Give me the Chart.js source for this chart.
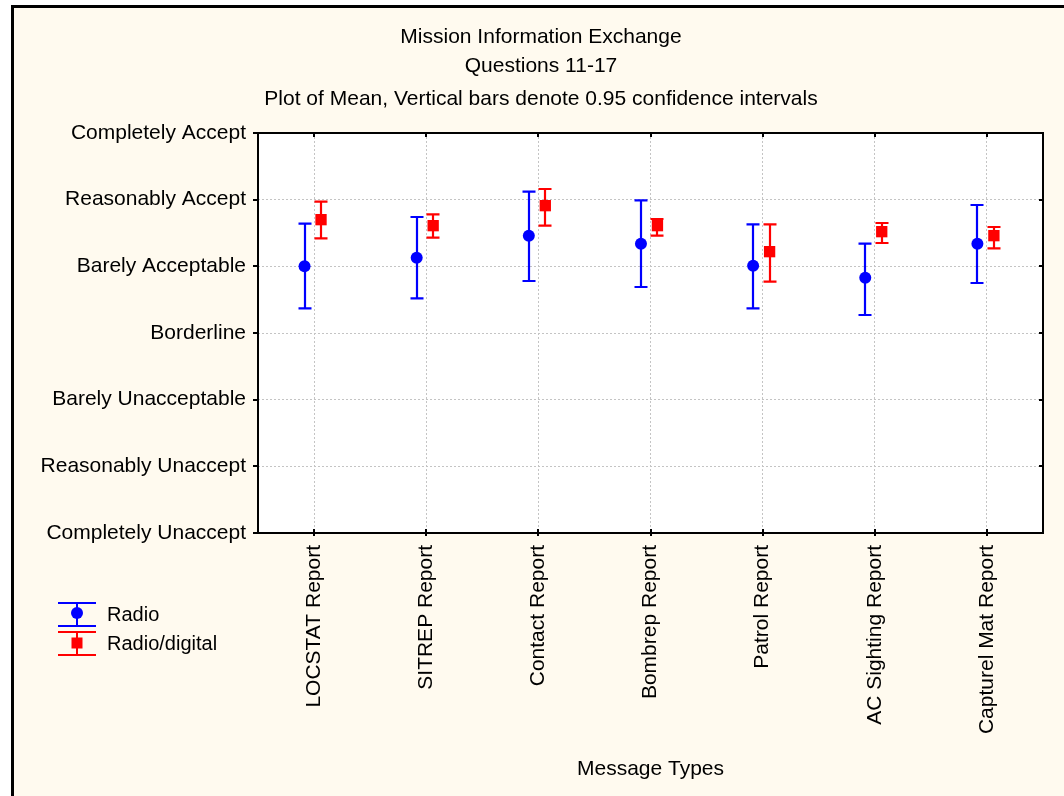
<!DOCTYPE html>
<html>
<head>
<meta charset="utf-8">
<script src="https://cdn.jsdelivr.net/npm/chart.js@4/dist/chart.umd.min.js"></script>
<style>
  html, body { margin: 0; padding: 0; background: #ffffff; }
  canvas { display: block; }
</style>
</head>
<body>
<canvas id="chart" width="1064" height="796"></canvas>
<script>
// Message types on the x axis
const messageTypes = ["LOCSTAT Report", "SITREP Report", "Contact Report", "Bombrep Report",
                      "Patrol Report", "AC Sighting Report", "Capturel Mat Report"];
// Rating scale, value 1 .. 7
const ratingLabels = ["Completely Unaccept", "Reasonably Unaccept", "Barely Unacceptable",
                      "Borderline", "Barely Acceptable", "Reasonably Accept", "Completely Accept"];

// Radio: mean and 0.95 confidence limits
const radioMean = [5.00, 5.13, 5.46, 5.34, 5.01, 4.83, 5.34];
const radioLow  = [4.37, 4.52, 4.78, 4.69, 4.37, 4.27, 4.75];
const radioHigh = [5.64, 5.74, 6.12, 5.99, 5.63, 5.34, 5.92];

// Radio/digital: mean and 0.95 confidence limits
const digitalMean = [5.70, 5.61, 5.91, 5.61, 5.22, 5.52, 5.46];
const digitalLow  = [5.42, 5.43, 5.61, 5.46, 4.77, 5.35, 5.27];
const digitalHigh = [5.97, 5.78, 6.16, 5.71, 5.63, 5.65, 5.59];

const titleLines = ["Mission Information Exchange", "Questions 11-17",
                    "Plot of Mean, Vertical bars denote 0.95 confidence intervals"];
const seriesNames = ["Radio", "Radio/digital"];

const FONT = "'Liberation Sans', Arial, sans-serif";
const BLUE = "#0000ff";
const RED = "#ff0000";
const CREAM = "#fffaef";

// horizontal shift of each series inside its category
const radioShift = -0.085;
const digitalShift = 0.062;

function toPoints(means, shift) {
  return means.map((v, i) => ({ x: i + shift, y: v }));
}

const errorBars = [
  { low: radioLow, high: radioHigh, shift: radioShift, color: BLUE, cap: 6.5 },
  { low: digitalLow, high: digitalHigh, shift: digitalShift, color: RED, cap: 6.5 }
];

// page background, framed on the left and top
const backgroundPlugin = {
  id: "pageBackground",
  beforeDraw(chart) {
    const ctx = chart.ctx;
    ctx.save();
    ctx.fillStyle = "#ffffff";
    ctx.fillRect(0, 0, chart.width, chart.height);
    ctx.fillStyle = CREAM;
    ctx.fillRect(11, 5, chart.width - 11, chart.height - 5);
    ctx.fillStyle = "#000000";
    ctx.fillRect(11, 5, 3, chart.height - 5);
    ctx.fillRect(11, 5, chart.width - 11, 3);
    const a = chart.chartArea;
    ctx.fillStyle = "#ffffff";
    ctx.fillRect(a.left, a.top, a.right - a.left, a.bottom - a.top);
    ctx.restore();
  }
};

// vertical confidence interval bars
const errorBarPlugin = {
  id: "errorBars",
  beforeDatasetsDraw(chart) {
    const ctx = chart.ctx;
    const xs = chart.scales.x, ys = chart.scales.y;
    ctx.save();
    ctx.lineWidth = 2.2;
    errorBars.forEach(s => {
      ctx.strokeStyle = s.color;
      s.low.forEach((lo, i) => {
        const x = Math.round(xs.getPixelForValue(i + s.shift));
        const yl = ys.getPixelForValue(lo);
        const yh = ys.getPixelForValue(s.high[i]);
        ctx.beginPath();
        ctx.moveTo(x, yl); ctx.lineTo(x, yh);
        ctx.moveTo(x - s.cap, yl); ctx.lineTo(x + s.cap, yl);
        ctx.moveTo(x - s.cap, yh); ctx.lineTo(x + s.cap, yh);
        ctx.stroke();
      });
    });
    ctx.restore();
  }
};

// plot frame, tick marks, titles and legend
const decorPlugin = {
  id: "decor",
  afterDraw(chart) {
    const ctx = chart.ctx;
    const a = chart.chartArea;
    const xs = chart.scales.x, ys = chart.scales.y;
    ctx.save();
    ctx.strokeStyle = "#000000";
    ctx.lineWidth = 2;
    ctx.strokeRect(a.left, a.top, a.right - a.left, a.bottom - a.top);
    ctx.lineWidth = 2;
    ctx.beginPath();
    ys.ticks.forEach(t => {
      const y = Math.round(ys.getPixelForValue(t.value));
      ctx.moveTo(a.left - 5, y); ctx.lineTo(a.left, y);
      ctx.moveTo(a.right, y); ctx.lineTo(a.right - 4, y);
    });
    xs.ticks.forEach(t => {
      const x = Math.round(xs.getPixelForValue(t.value));
      ctx.moveTo(x, a.top); ctx.lineTo(x, a.top + 4);
      ctx.moveTo(x, a.bottom + 3); ctx.lineTo(x, a.bottom - 4);
    });
    ctx.stroke();

    // titles
    ctx.fillStyle = "#000000";
    ctx.textAlign = "center";
    ctx.textBaseline = "middle";
    ctx.font = "21px " + FONT;
    const titleY = [37, 66, 99];
    titleLines.forEach((t, i) => ctx.fillText(t, 541, titleY[i]));

    // legend
    const lx = 77, half = 19;
    const items = [
      { name: seriesNames[0], color: BLUE, top: 603, bottom: 626, mid: 614, marker: "circle" },
      { name: seriesNames[1], color: RED, top: 632, bottom: 655, mid: 643, marker: "rect" }
    ];
    items.forEach(it => {
      ctx.strokeStyle = it.color;
      ctx.fillStyle = it.color;
      ctx.lineWidth = 2;
      ctx.beginPath();
      ctx.moveTo(lx - half, it.top); ctx.lineTo(lx + half, it.top);
      ctx.moveTo(lx - half, it.bottom); ctx.lineTo(lx + half, it.bottom);
      ctx.moveTo(lx, it.top); ctx.lineTo(lx, it.bottom);
      ctx.stroke();
      if (it.marker === "circle") {
        ctx.beginPath();
        ctx.arc(lx, it.mid - 1, 6, 0, Math.PI * 2);
        ctx.fill();
      } else {
        ctx.fillRect(lx - 5.5, it.mid - 5.5, 11, 11);
      }
      ctx.fillStyle = "#000000";
      ctx.textAlign = "left";
      ctx.font = "20px " + FONT;
      ctx.fillText(it.name, 107, it.mid + 1);
    });
    ctx.restore();
  }
};

new Chart(document.getElementById("chart"), {
  type: "scatter",
  data: {
    datasets: [
      {
        label: seriesNames[0],
        data: toPoints(radioMean, radioShift),
        pointStyle: "circle",
        pointRadius: 6,
        pointHoverRadius: 6,
        backgroundColor: BLUE,
        borderColor: BLUE,
        borderWidth: 0
      },
      {
        label: seriesNames[1],
        data: toPoints(digitalMean, digitalShift),
        pointStyle: "rect",
        pointRadius: 8,
        pointHoverRadius: 8,
        backgroundColor: RED,
        borderColor: RED,
        borderWidth: 0
      }
    ]
  },
  options: {
    responsive: false,
    animation: false,
    events: [],
    layout: { padding: { top: 133, left: 12, right: 21, bottom: 0 } },
    plugins: {
      legend: { display: false },
      title: { display: false },
      tooltip: { enabled: false }
    },
    scales: {
      x: {
        type: "linear",
        min: -0.5,
        max: 6.5,
        afterBuildTicks(scale) {
          scale.ticks = messageTypes.map((_, i) => ({ value: i }));
        },
        afterFit(scale) { scale.height = 263; },
        ticks: {
          autoSkip: false,
          minRotation: 90,
          maxRotation: 90,
          padding: 12,
          color: "#000000",
          font: { family: FONT, size: 21 },
          callback: v => messageTypes[v]
        },
        grid: { color: "#c4c4c4", lineWidth: 1, drawTicks: false },
        border: { display: false, dash: [2, 2] },
        title: {
          display: true,
          text: "Message Types",
          color: "#000000",
          font: { family: FONT, size: 21 },
          padding: { top: 0, bottom: 14 }
        }
      },
      y: {
        type: "linear",
        min: 1,
        max: 7,
        afterBuildTicks(scale) {
          scale.ticks = ratingLabels.map((_, i) => ({ value: i + 1 }));
        },
        afterFit(scale) { scale.width = 246; },
        ticks: {
          padding: 12,
          color: "#000000",
          font: { family: FONT, size: 21 },
          callback: v => ratingLabels[v - 1]
        },
        grid: { color: "#c4c4c4", lineWidth: 1, drawTicks: false },
        border: { display: false, dash: [2, 2] }
      }
    }
  },
  plugins: [backgroundPlugin, errorBarPlugin, decorPlugin]
});
</script>
</body>
</html>
